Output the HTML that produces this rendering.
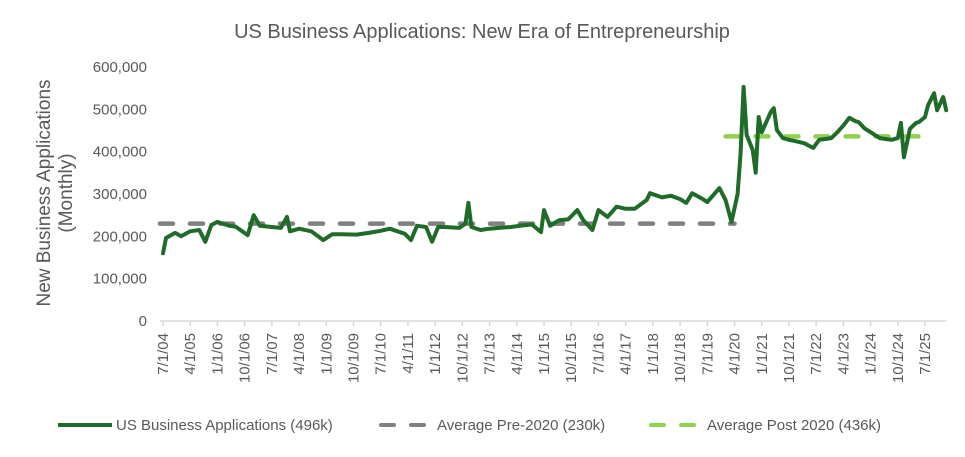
<!DOCTYPE html>
<html><head><meta charset="utf-8"><style>
body{margin:0;background:#fff;}
svg text{font-family:"Liberation Sans",sans-serif;fill:#595959;}
</style></head><body>
<svg id="chart" width="965" height="452">
<text x="482" y="38" text-anchor="middle" font-size="20">US Business Applications: New Era of Entrepreneurship</text>
<g transform="translate(60,193) rotate(-90)">
<text x="0" y="-10" text-anchor="middle" font-size="19">New Business Applications</text>
<text x="0" y="12" text-anchor="middle" font-size="19">(Monthly)</text>
</g>
<g id="yaxis"></g>
<g id="xaxis"></g>
<g id="series"></g>
<g>
<g>
<line x1="58" y1424="0" y1="425" x2="112" y2="425" stroke="#1f6b28" stroke-width="4"/>
<text x="116" y="430" font-size="15">US Business Applications (496k)</text></g>
<g>
<line x1="381" y1="425" x2="430" y2="425" stroke="#808080" stroke-width="4" stroke-dasharray="13,17" stroke-linecap="round"/>
<text x="437" y="430" font-size="15">Average Pre-2020 (230k)</text></g>
<g>
<line x1="651" y1="425" x2="700" y2="425" stroke="#92d050" stroke-width="4" stroke-dasharray="13,17" stroke-linecap="round"/>
<text x="707" y="430" font-size="15">Average Post 2020 (436k)</text></g>
</g>
</svg>
<script>
const monthIdx=[0,1,4,6,9,12,14,16,18,22,24,28,30,32,36,39,41,42,45,49,53,56,59,64,68,72,75,80,82,84,87,89,91,93,98,100,101,102,105,108,111,115,118,122,125,126,128,131,134,137,139,142,144,147,150,153,156,160,161,165,168,171,173,175,178,180,184,186,188,190,191,192,193,195,196,197,198,201,202,203,205,207,209,212,215,217,219,221,223,225,227,229,230,232,234,237,239,241,243,244,245,247,249,250,252,253,255,256,258,259];
const appValues=[160000,196000,208000,200000,212000,215000,187000,227000,234000,225000,223000,203000,250000,225000,222000,220000,246000,212000,218000,212000,191000,205000,205000,204000,208000,213000,218000,206000,191000,225000,222000,187000,222000,222000,220000,230000,279000,222000,215000,218000,220000,222000,225000,228000,210000,262000,225000,238000,240000,262000,238000,215000,262000,246000,270000,265000,265000,286000,302000,292000,296000,288000,279000,302000,290000,281000,314000,286000,234000,300000,397000,553000,440000,404000,350000,482000,446000,494000,503000,451000,432000,428000,425000,420000,409000,428000,430000,432000,446000,462000,480000,472000,470000,455000,446000,432000,430000,428000,432000,468000,387000,454000,468000,470000,482000,510000,538000,498000,529000,498000];
const yTicks=[0,100000,200000,300000,400000,500000,600000];
const xTickLabels=["7/1/04","4/1/05","1/1/06","10/1/06","7/1/07","4/1/08","1/1/09","10/1/09","7/1/10","4/1/11","1/1/12","10/1/12","7/1/13","4/1/14","1/1/15","10/1/15","7/1/16","4/1/17","1/1/18","10/1/18","7/1/19","4/1/20","1/1/21","10/1/21","7/1/22","4/1/23","1/1/24","10/1/24","7/1/25"];
const preAvg=230000, postAvg=436000;
const preRange=[-1,189], postRange=[186,253];
const NS="http://www.w3.org/2000/svg";
const X0=163, PX_PER_M=3.024, Y0=321, PX_PER_V=254/600000;
function xs(m){return X0+m*PX_PER_M;}
function ys(v){return Y0-v*PX_PER_V;}
function mk(tag,attrs,parent){const e=document.createElementNS(NS,tag);for(const k in attrs)e.setAttribute(k,attrs[k]);parent.appendChild(e);return e;}
const yax=document.getElementById('yaxis'),xax=document.getElementById('xaxis'),ser=document.getElementById('series');
yTicks.forEach(v=>{const t=mk('text',{x:147,y:ys(v)+5,'text-anchor':'end','font-size':15},yax);


t.textContent=v.toLocaleString('en-US');});
mk('line',{x1:160,y1:Y0,x2:946,y2:Y0,stroke:'#d9d9d9','stroke-width':1.5},xax);
xTickLabels.forEach((l,i)=>{const m=i*9;const x=xs(m);
mk('line',{x1:x,y1:Y0,x2:x,y2:Y0+5,stroke:'#d9d9d9','stroke-width':1.5},xax);
const t=mk('text',{transform:`translate(${x+5},333) rotate(-90)`,'text-anchor':'end','font-size':15},xax);


t.textContent=l;});
const pre=mk('line',{x1:xs(preRange[0]),y1:ys(preAvg),x2:xs(preRange[1]),y2:ys(preAvg),stroke:'#808080','stroke-width':4.5,'stroke-dasharray':'13,17','stroke-linecap':'round'},ser);


const post=mk('line',{x1:xs(postRange[0]),y1:ys(postAvg),x2:xs(postRange[1]),y2:ys(postAvg),stroke:'#92d050','stroke-width':4.5,'stroke-dasharray':'13,17','stroke-linecap':'round'},ser);


const d=monthIdx.map((m,i)=>(i?'L':'M')+xs(m).toFixed(1)+','+ys(appValues[i]).toFixed(1)).join(' ');
const p=mk('path',{d:d,fill:'none',stroke:'#1f6b28','stroke-width':4,'stroke-linejoin':'round','stroke-linecap':'round'},ser);


</script>
</body></html>
